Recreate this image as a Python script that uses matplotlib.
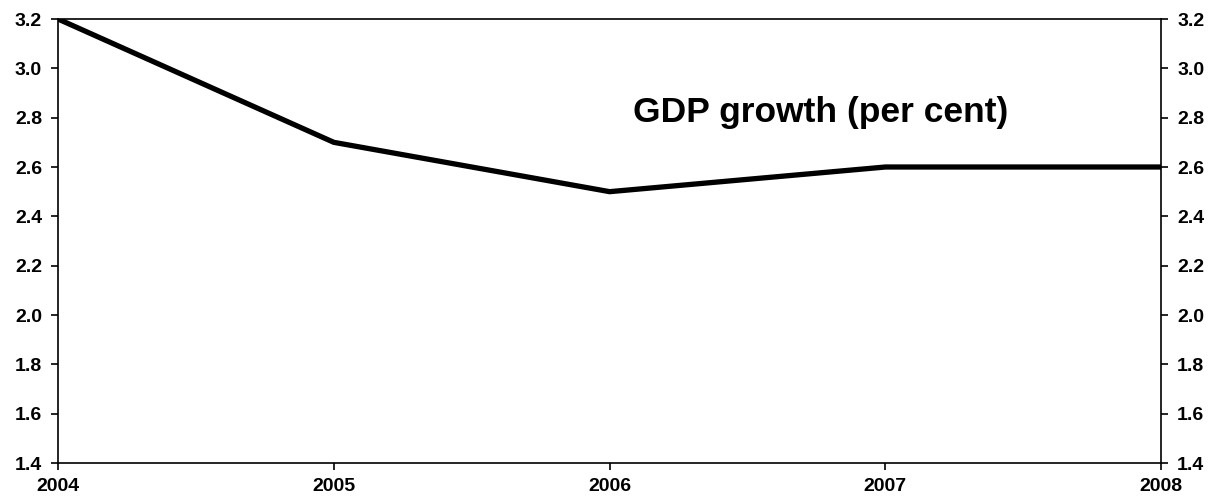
import matplotlib
matplotlib.use('Agg')
import matplotlib.pyplot as plt
import numpy as np

years = [2004, 2005, 2006, 2007, 2008]
gdp_growth = [3.2, 2.7, 2.5, 2.6, 2.6]
y_ticks = [1.4, 1.6, 1.8, 2.0, 2.2, 2.4, 2.6, 2.8, 3.0, 3.2]

plt.rcParams['font.family'] = ['Liberation Sans', 'DejaVu Sans']
plt.rcParams['font.weight'] = 'bold'

fig = plt.figure(figsize=(12.19, 5), dpi=100)
ax = fig.add_axes([0.0476, 0.074, 0.905, 0.888])

ax.plot(years, gdp_growth, color='black', linewidth=3.8, solid_joinstyle='miter')
ax.set_xlim(2004, 2008)
ax.set_ylim(1.4, 3.2)
ax.set_xticks(years)
ax.set_yticks(y_ticks)
ax.set_yticklabels(["%.1f" % v for v in y_ticks])

ax.tick_params(axis='both', direction='out', length=5, width=1.2,
               labelsize=14, pad=6.5)
ax.tick_params(axis='y', left=True, right=True, labelleft=True, labelright=True)
ax.tick_params(axis='x', pad=6)
for lbl in ax.get_xticklabels() + ax.get_yticklabels():
    lbl.set_fontweight('bold')
for sp in ax.spines.values():
    sp.set_linewidth(1.2)
    sp.set_color('black')

ax.text(2006.085, 2.784, "GDP growth (per cent)", fontsize=25.5, fontweight='bold',
        ha='left', va='baseline')

plt.savefig("out.png", dpi=100)
